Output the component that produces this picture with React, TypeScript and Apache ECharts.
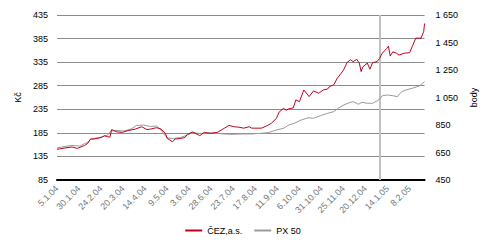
import React, { useEffect, useRef } from "react";
import * as echarts from "echarts";

// x-axis tick labels (every 25 days starting 5.1.04)
const tickLabels = [
  "5.1.04", "30.1.04", "24.2.04", "20.3.04", "14.4.04", "9.5.04", "3.6.04",
  "28.6.04", "23.7.04", "17.8.04", "11.9.04", "6.10.04", "31.10.04",
  "25.11.04", "20.12.04", "14.1.05", "8.2.05",
];

// ČEZ, a.s. (Kč, left axis)
const cezDates = [
  "2004-01-05", "2004-01-14", "2004-01-22", "2004-01-28", "2004-02-05", "2004-02-09",
  "2004-02-12", "2004-02-16", "2004-02-24", "2004-02-28", "2004-03-02", "2004-03-05",
  "2004-03-07", "2004-03-13", "2004-03-19", "2004-03-26", "2004-04-03", "2004-04-10",
  "2004-04-16", "2004-04-20", "2004-04-27", "2004-05-02", "2004-05-07", "2004-05-09",
  "2004-05-12", "2004-05-15", "2004-05-18", "2004-05-24", "2004-05-29", "2004-06-01",
  "2004-06-07", "2004-06-13", "2004-06-15", "2004-06-20", "2004-06-27", "2004-07-05",
  "2004-07-13", "2004-07-18", "2004-07-24", "2004-07-29", "2004-08-04", "2004-08-10",
  "2004-08-13", "2004-08-19", "2004-08-24", "2004-08-30", "2004-09-04", "2004-09-10",
  "2004-09-13", "2004-09-18", "2004-09-21", "2004-09-24", "2004-09-29", "2004-10-02",
  "2004-10-06", "2004-10-11", "2004-10-17", "2004-10-22", "2004-10-28", "2004-11-02",
  "2004-11-07", "2004-11-09", "2004-11-14", "2004-11-18", "2004-11-21", "2004-11-25",
  "2004-11-29", "2004-12-03", "2004-12-06", "2004-12-10", "2004-12-13", "2004-12-15",
  "2004-12-17", "2004-12-22", "2004-12-25", "2004-12-28", "2005-01-02", "2005-01-05",
  "2005-01-08", "2005-01-13", "2005-01-15", "2005-01-17", "2005-01-20", "2005-01-24",
  "2005-01-27", "2005-02-02", "2005-02-08", "2005-02-11", "2005-02-15", "2005-02-21",
  "2005-02-24", "2005-02-25",
];
const cezValues = [
  150, 153, 155, 152, 158, 163,
  172, 172, 175, 179, 177, 176,
  192, 187, 186, 190, 193, 198,
  192, 193, 196, 193, 184, 173,
  170, 166, 172, 173, 175, 182,
  187, 181, 179, 186, 184, 186,
  195, 201, 198, 197, 195, 198,
  195, 195, 195, 200, 205, 216,
  229, 237, 233, 236, 238, 255,
  251, 276, 262, 274, 269, 276,
  278, 283, 287, 301, 308, 318,
  334, 340, 336, 341, 333, 315,
  325, 333, 320, 334, 336, 343,
  354, 364, 369, 348, 357, 354,
  350, 354, 355, 368, 386, 386,
  400, 417,
];

// PX 50 (points, right axis)
const pxDates = [
  "2004-01-05", "2004-01-14", "2004-01-22", "2004-01-31", "2004-02-09", "2004-02-13",
  "2004-02-22", "2004-03-02", "2004-03-06", "2004-03-13", "2004-03-21", "2004-03-29",
  "2004-04-04", "2004-04-12", "2004-04-20", "2004-04-27", "2004-05-02", "2004-05-07",
  "2004-05-10", "2004-05-16", "2004-05-24", "2004-06-01", "2004-06-07", "2004-06-15",
  "2004-06-24", "2004-07-02", "2004-07-11", "2004-07-22", "2004-08-02", "2004-08-13",
  "2004-08-24", "2004-09-01", "2004-09-10", "2004-09-18", "2004-09-24", "2004-09-30",
  "2004-10-08", "2004-10-16", "2004-10-22", "2004-10-30", "2004-11-07", "2004-11-14",
  "2004-11-19", "2004-11-25", "2004-11-30", "2004-12-06", "2004-12-12", "2004-12-16",
  "2004-12-22", "2004-12-28", "2005-01-04", "2005-01-08", "2005-01-14", "2005-01-20",
  "2005-01-25", "2005-01-30", "2005-02-04", "2005-02-11", "2005-02-19", "2005-02-25",
];
const pxValues = [
  683, 694, 701, 697, 726, 748,
  759, 774, 806, 810, 806, 821,
  846, 850, 839, 843, 814, 770,
  755, 752, 759, 777, 795, 788,
  792, 792, 785, 782, 785, 785,
  790, 795, 814, 826, 850, 862,
  886, 903, 899, 918, 935, 947,
  971, 995, 1008, 1020, 1001, 1015,
  1008, 1008, 1032, 1063, 1068, 1063,
  1056, 1092, 1105, 1117, 1134, 1165,
];

const markerDate = "2005-01-05";

const START = Date.UTC(2004, 0, 5);
const toDay = (s: string) => {
  const [y, m, d] = s.split("-").map(Number);
  return Math.round((Date.UTC(y, m - 1, d) - START) / 86400000);
};

const FONT = "'Liberation Sans', Arial, sans-serif";

export default function App() {
  const ref = useRef<HTMLDivElement>(null);
  useEffect(() => {
    if (!ref.current) return;
    const chart = echarts.init(ref.current, null, { renderer: "svg" });
    const cezData = cezDates.map((d, i) => [toDay(d), cezValues[i]]);
    const pxData = pxDates.map((d, i) => [toDay(d), pxValues[i]]);
    chart.setOption({
      animation: false,
      backgroundColor: "#fff",
      textStyle: { fontFamily: FONT },
      grid: { left: 57, right: 55, top: 15, bottom: 62, containLabel: false },
      legend: {
        data: ["ČEZ,a.s.", "PX 50"],
        bottom: 2,
        left: "center",
        itemWidth: 17,
        itemHeight: 2,
        itemGap: 12,
        icon: "rect",
        textStyle: { fontSize: 9, color: "#000", fontFamily: FONT },
      },
      xAxis: {
        type: "value",
        min: 0,
        max: 417,
        interval: 25,
        axisLine: { show: true, onZero: false, lineStyle: { color: "#000", width: 2 } },
        axisTick: { show: false },
        splitLine: { show: false },
        axisLabel: {
          rotate: 45,
          fontSize: 9,
          color: "#777",
          margin: 7,
          fontFamily: FONT,
          formatter: (v: number) => (v % 25 === 0 ? tickLabels[v / 25] ?? "" : ""),
        },
      },
      yAxis: [
        {
          type: "value",
          min: 85,
          max: 435,
          interval: 50,
          name: "Kč",
          nameLocation: "middle",
          nameRotate: 90,
          nameGap: 31,
          nameTextStyle: { fontSize: 9, color: "#000", fontFamily: FONT },
          axisLine: { show: false },
          axisTick: { show: false },
          splitLine: { show: true, lineStyle: { color: "#8c8c8c", width: 1 } },
          axisLabel: { fontSize: 9, color: "#000", margin: 9, fontFamily: FONT },
        },
        {
          type: "value",
          min: 450,
          max: 1650,
          interval: 200,
          name: "body",
          nameLocation: "middle",
          nameRotate: 90,
          nameGap: 34,
          nameTextStyle: { fontSize: 9, color: "#000", fontFamily: FONT },
          axisLine: { show: false },
          axisTick: { show: false },
          splitLine: { show: false },
          axisLabel: {
            fontSize: 9,
            color: "#000",
            margin: 11,
            fontFamily: FONT,
            formatter: (v: number) =>
              v >= 1000 ? `${Math.floor(v / 1000)} ${String(v % 1000).padStart(3, "0")}` : String(v),
          },
        },
      ],
      series: [
        {
          name: "PX 50",
          type: "line",
          yAxisIndex: 1,
          data: pxData,
          showSymbol: false,
          symbol: "none",
          lineStyle: { color: "#9a9a9a", width: 1 },
          itemStyle: { color: "#9a9a9a" },
        },
        {
          name: "ČEZ,a.s.",
          type: "line",
          yAxisIndex: 0,
          data: cezData,
          showSymbol: false,
          symbol: "none",
          lineStyle: { color: "#c4001c", width: 1 },
          itemStyle: { color: "#c4001c" },
          markLine: {
            silent: true,
            symbol: "none",
            label: { show: false },
            lineStyle: { color: "#c0c0c0", width: 2, type: "solid" },
            data: [{ xAxis: toDay(markerDate) }],
            z: 1,
          },
        },
      ],
    });
    return () => chart.dispose();
  }, []);
  return (
    <div
      ref={ref}
      style={{ position: "fixed", left: 0, top: 0, width: 486, height: 242 }}
    />
  );
}
